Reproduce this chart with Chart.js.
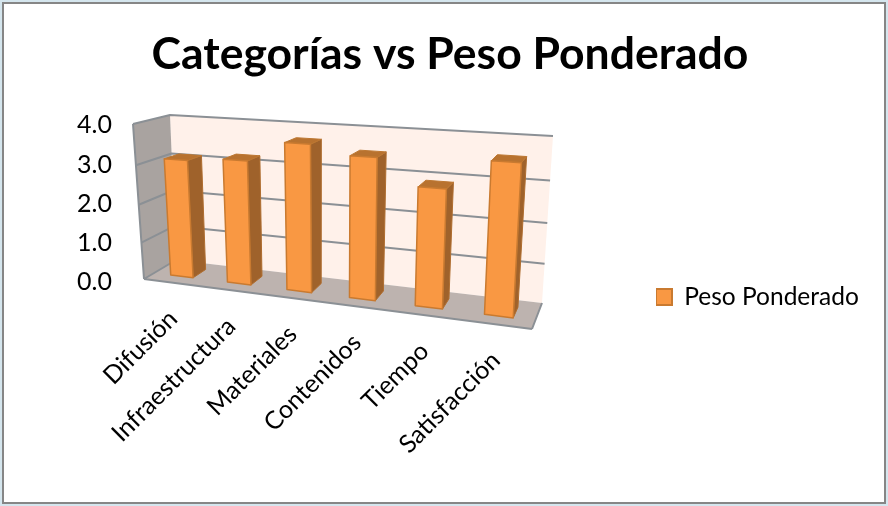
<!DOCTYPE html>
<html>
<head>
<meta charset="utf-8">
<title>Categorías vs Peso Ponderado</title>
<script src="https://cdn.jsdelivr.net/npm/chart.js@4"></script>
<style>
html, body { margin: 0; padding: 0; background: #fff; }
canvas { display: block; }
</style>
</head>
<body>
<canvas id="chart" width="888" height="506"></canvas>
<script>
const categories = ['Difusión', 'Infraestructura', 'Materiales', 'Contenidos', 'Tiempo', 'Satisfacción'];
const pesoPonderado = [3.1, 3.2, 3.7, 3.5, 2.9, 3.6];
const seriesName = 'Peso Ponderado';

// esquinas de la caja 3D en pantalla (f = frente, b = fondo)
const box = {
    fbl: [144, 279], fbr: [532, 329], ftl: [133, 124], ftr: [542, 150],
    bbl: [176, 260], bbr: [542, 303], btl: [170, 115], btr: [553, 136]
};
const perspX = 0.14, perspY = 0.08;
const barFront = 0.32, barBack = 0.74;

function lerp(a, b, t) {
    return [a[0] + (b[0] - a[0]) * t, a[1] + (b[1] - a[1]) * t];
}

// u: 0-1 a lo ancho, v: 0-1 en altura, d: 0 frente - 1 fondo
function project(u, v, d) {
    const uu = u * (1 - perspX) / (1 - perspX * u);
    const vv = v * (1 - perspY) / (1 - perspY * v);
    const front = lerp(lerp(box.fbl, box.fbr, uu), lerp(box.ftl, box.ftr, uu), vv);
    const back = lerp(lerp(box.bbl, box.bbr, uu), lerp(box.btl, box.btr, uu), vv);
    return lerp(front, back, d);
}

function poly(ctx, pts, fill, stroke, lw) {
    ctx.beginPath();
    pts.forEach((p, i) => i ? ctx.lineTo(p[0], p[1]) : ctx.moveTo(p[0], p[1]));
    ctx.closePath();
    if (fill) { ctx.fillStyle = fill; ctx.fill(); }
    if (stroke) { ctx.strokeStyle = stroke; ctx.lineWidth = lw; ctx.stroke(); }
}

const box3d = {
    id: 'box3d',
    afterLayout(chart) {
        // la leyenda va a la altura de la caja, no centrada en el canvas
        const legend = chart.legend;
        legend.left = 656;
        legend.right = 880;
        legend.top = 282;
        legend.bottom = 312;
    },
    beforeDraw(chart) {
        const ctx = chart.ctx;
        ctx.save();
        ctx.fillStyle = '#d5e6ee';
        ctx.fillRect(0, 0, 888, 506);
        ctx.fillStyle = '#fff';
        ctx.fillRect(2, 2, 884, 502);
        ctx.strokeStyle = '#868686';
        ctx.lineWidth = 2;
        ctx.strokeRect(3, 3, 882, 500);
        ctx.restore();
    },
    beforeDatasetsDraw(chart) {
        const ctx = chart.ctx;
        const yScale = chart.scales.y;
        const xScale = chart.scales.x;
        const area = chart.chartArea;
        const lineColor = '#8b9095';
        ctx.save();
        ctx.lineJoin = 'round';

        poly(ctx, [box.btl, box.btr, box.bbr, box.bbl], '#fff1ea');
        poly(ctx, [box.ftl, box.btl, box.bbl, box.fbl], '#a9a3a0');
        poly(ctx, [box.fbl, box.bbl, box.bbr, box.fbr], '#bdb3af');

        // rejilla: fondo y pared izquierda
        yScale.ticks.forEach(t => {
            const v = (area.bottom - yScale.getPixelForValue(t.value)) / area.height;
            if (v === 0) return;
            ctx.beginPath();
            const a = project(0, v, 0), b = project(0, v, 1), c = project(1, v, 1);
            ctx.moveTo(a[0], a[1]);
            ctx.lineTo(b[0], b[1]);
            ctx.lineTo(c[0], c[1]);
            ctx.strokeStyle = lineColor;
            ctx.lineWidth = 2;
            ctx.stroke();
        });
        // bordes de la caja
        ctx.beginPath();
        [[box.ftl, box.fbl], [box.fbl, box.fbr], [box.fbr, box.bbr]].forEach(s => {
            ctx.moveTo(s[0][0], s[0][1]);
            ctx.lineTo(s[1][0], s[1][1]);
        });
        ctx.moveTo(box.fbl[0], box.fbl[1]);
        ctx.lineTo(box.bbl[0], box.bbl[1]);
        ctx.strokeStyle = lineColor;
        ctx.lineWidth = 2;
        ctx.stroke();

        // barras proyectadas desde los elementos del dataset
        const ds = chart.data.datasets[0];
        const meta = chart.getDatasetMeta(0);
        meta.data.forEach(bar => {
            const u0 = (bar.x - bar.width / 2 - area.left) / area.width;
            const u1 = (bar.x + bar.width / 2 - area.left) / area.width;
            const vTop = (area.bottom - bar.y) / area.height;
            const vBase = (area.bottom - bar.base) / area.height;
            const fTL = project(u0, vTop, barFront), fTR = project(u1, vTop, barFront);
            const fBL = project(u0, vBase, barFront), fBR = project(u1, vBase, barFront);
            const bTL = project(u0, vTop, barBack), bTR = project(u1, vTop, barBack);
            const bBR = project(u1, vBase, barBack);
            poly(ctx, [fTR, bTR, bBR, fBR], '#9f622b', '#b06e30', 1);
            poly(ctx, [fTL, bTL, bTR, fTR], '#b8722f', '#bd7731', 1);
            poly(ctx, [fTL, fTR, fBR, fBL], ds.backgroundColor, ds.borderColor, 1.5);
        });

        // etiquetas de categoría, siguen el borde frontal del suelo
        ctx.fillStyle = '#000';
        ctx.font = '25px Lato';
        ctx.textAlign = 'right';
        ctx.textBaseline = 'middle';
        categories.forEach((name, i) => {
            const u = (xScale.getPixelForValue(i) - area.left) / area.width;
            const p = project(u, 0, 0);
            ctx.save();
            ctx.translate(p[0] + 1, p[1] + 32);
            ctx.rotate(-Math.PI / 4);
            ctx.fillText(name, 0, 0);
            ctx.restore();
        });
        ctx.restore();
        return false;
    }
};

new Chart(document.getElementById('chart'), {
    type: 'bar',
    plugins: [box3d],
    data: {
        labels: categories,
        datasets: [{
            label: seriesName,
            data: pesoPonderado,
            backgroundColor: '#f99843',
            borderColor: '#c97a30',
            borderWidth: 2,
            categoryPercentage: 0.5,
            barPercentage: 0.8
        }]
    },
    options: {
        responsive: false,
        animation: false,
        layout: { padding: { left: 12, right: 0, top: 20, bottom: 216 } },
        plugins: {
            title: {
                display: true,
                text: 'Categorías vs Peso Ponderado',
                color: '#000',
                font: { family: 'Lato', size: 44.5, weight: 'bold' },
                padding: { top: 8, bottom: 44 }
            },
            legend: {
                position: 'right',
                labels: {
                    color: '#000',
                    font: { family: 'Lato', size: 24.5 },
                    boxWidth: 16,
                    boxHeight: 16,
                    padding: 0
                }
            },
            tooltip: { enabled: false }
        },
        scales: {
            x: {
                grid: { display: false },
                border: { display: false },
                ticks: { display: false }
            },
            y: {
                min: 0,
                max: 4,
                grid: { display: false },
                border: { display: false },
                afterFit: s => { s.width = 116; },
                ticks: {
                    stepSize: 1,
                    color: '#000',
                    font: { family: 'Lato', size: 25 },
                    padding: 8,
                    callback: v => v.toFixed(1)
                }
            }
        }
    }
});
</script>
</body>
</html>
